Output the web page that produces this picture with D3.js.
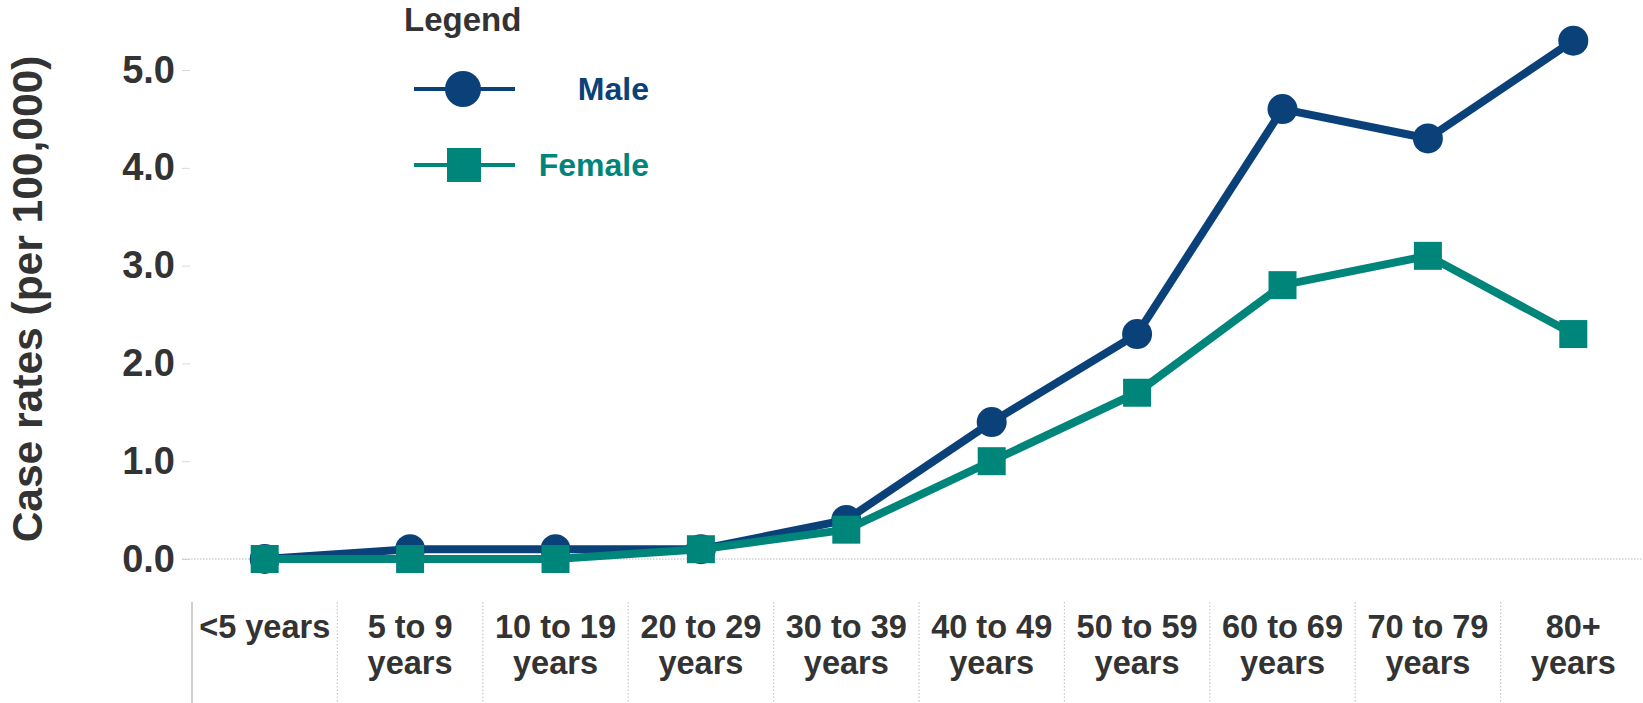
<!DOCTYPE html>
<html>
<head>
<meta charset="utf-8">
<script src="https://cdn.jsdelivr.net/npm/d3@7"></script>
<style>
  html, body { margin: 0; padding: 0; background: #fff; }
  svg { display: block; font-family: "Liberation Sans", Arial, sans-serif; }
</style>
</head>
<body>
<svg id="chart" width="1643" height="703"></svg>
<script>
// ---- data ----
const categories = ["<5 years", "5 to 9 years", "10 to 19 years", "20 to 29 years", "30 to 39 years",
                    "40 to 49 years", "50 to 59 years", "60 to 69 years", "70 to 79 years", "80+ years"];
const categoryLabels = [["<5 years"], ["5 to 9", "years"], ["10 to 19", "years"], ["20 to 29", "years"],
                        ["30 to 39", "years"], ["40 to 49", "years"], ["50 to 59", "years"],
                        ["60 to 69", "years"], ["70 to 79", "years"], ["80+", "years"]];
const maleRates   = [0.0, 0.1, 0.1, 0.1, 0.4, 1.4, 2.3, 4.6, 4.3, 5.3];
const femaleRates = [0.0, 0.0, 0.0, 0.1, 0.3, 1.0, 1.7, 2.8, 3.1, 2.3];
const yTicks = [0, 1, 2, 3, 4, 5];
const seriesNames = ["Male", "Female"];
const yTitle = "Case rates (per 100,000)";

// ---- styling ----
const maleColor = "#0b4179";
const femaleColor = "#00857b";
const textColor = "#333333";

const svg = d3.select("#chart");

const x = d3.scaleBand().domain(categories).range([192, 1646]).padding(0);
const y = d3.scaleLinear().domain([0, 5]).range([559, 70]);

// y axis
const yAxis = d3.axisLeft(y).tickValues(yTicks).tickFormat(d3.format(".1f")).tickSize(8).tickPadding(7);
const gy = svg.append("g").attr("transform", "translate(190,0)").call(yAxis);
gy.select(".domain").remove();
gy.selectAll(".tick line").attr("stroke", "#d9d9d9").attr("stroke-width", 1);
gy.selectAll(".tick text")
  .attr("fill", textColor)
  .style("font-size", "38px")
  .style("font-weight", "bold")
  .attr("font-family", "Liberation Sans, Arial, sans-serif");

// zero line (dotted)
svg.append("line")
  .attr("x1", 182).attr("x2", 1643)
  .attr("y1", y(0)).attr("y2", y(0))
  .attr("stroke", "#bdbdbd").attr("stroke-width", 1.2)
  .attr("stroke-dasharray", "1.5,1.5");

// y title
svg.append("text")
  .attr("transform", "translate(42,299) rotate(-90)")
  .attr("text-anchor", "middle")
  .attr("fill", textColor)
  .style("font-size", "42.5px")
  .style("font-weight", "bold")
  .text(yTitle);

// x category dividers
const dividers = svg.append("g");
categories.forEach((c, i) => {
  const xx = x(c);
  dividers.append("line")
    .attr("x1", xx).attr("x2", xx)
    .attr("y1", 602).attr("y2", 703)
    .attr("stroke", i === 0 ? "#cfcfcf" : "#c8c8c8")
    .attr("stroke-width", i === 0 ? 2 : 1.2)
    .attr("stroke-dasharray", i === 0 ? null : "1.5,2");
});

// x labels
const xl = svg.append("g");
categories.forEach((c, i) => {
  const t = xl.append("text")
    .attr("x", x(c) + x.bandwidth() / 2)
    .attr("y", 638)
    .attr("text-anchor", "middle")
    .attr("fill", textColor)
    .style("font-size", "32.5px")
    .style("font-weight", "bold");
  categoryLabels[i].forEach((line, j) => {
    t.append("tspan")
      .attr("x", x(c) + x.bandwidth() / 2)
      .attr("dy", j === 0 ? 0 : 36)
      .text(line);
  });
});

const cx = c => x(c) + x.bandwidth() / 2;
const line = d3.line().x(d => cx(d.c)).y(d => y(d.v));

const maleData = categories.map((c, i) => ({ c, v: maleRates[i] }));
const femaleData = categories.map((c, i) => ({ c, v: femaleRates[i] }));

// male series
svg.append("path").datum(maleData)
  .attr("d", line).attr("fill", "none")
  .attr("stroke", maleColor).attr("stroke-width", 8).attr("stroke-linejoin", "round");
svg.append("g").selectAll("circle").data(maleData).join("circle")
  .attr("cx", d => cx(d.c)).attr("cy", d => y(d.v)).attr("r", 15)
  .attr("fill", maleColor);

// female series
svg.append("path").datum(femaleData)
  .attr("d", line).attr("fill", "none")
  .attr("stroke", femaleColor).attr("stroke-width", 8).attr("stroke-linejoin", "miter");
const sq = 28;
svg.append("g").selectAll("rect").data(femaleData).join("rect")
  .attr("x", d => cx(d.c) - sq / 2).attr("y", d => y(d.v) - sq / 2)
  .attr("width", sq).attr("height", sq)
  .attr("fill", femaleColor);

// legend
const lg = svg.append("g");
lg.append("text").attr("x", 404).attr("y", 31)
  .attr("fill", textColor).style("font-size", "33px").style("font-weight", "bold")
  .text("Legend");
// male
lg.append("line").attr("x1", 414).attr("x2", 515).attr("y1", 89).attr("y2", 89)
  .attr("stroke", maleColor).attr("stroke-width", 4);
lg.append("circle").attr("cx", 463).attr("cy", 89).attr("r", 18).attr("fill", maleColor);
lg.append("text").attr("x", 649).attr("y", 100).attr("text-anchor", "end")
  .attr("fill", maleColor).style("font-size", "32px").style("font-weight", "bold")
  .text(seriesNames[0]);
// female
lg.append("line").attr("x1", 414).attr("x2", 515).attr("y1", 165).attr("y2", 165)
  .attr("stroke", femaleColor).attr("stroke-width", 4);
lg.append("rect").attr("x", 464 - 17).attr("y", 165 - 17).attr("width", 34).attr("height", 34)
  .attr("fill", femaleColor);
lg.append("text").attr("x", 649).attr("y", 176).attr("text-anchor", "end")
  .attr("fill", femaleColor).style("font-size", "32px").style("font-weight", "bold")
  .text(seriesNames[1]);
</script>
</body>
</html>
